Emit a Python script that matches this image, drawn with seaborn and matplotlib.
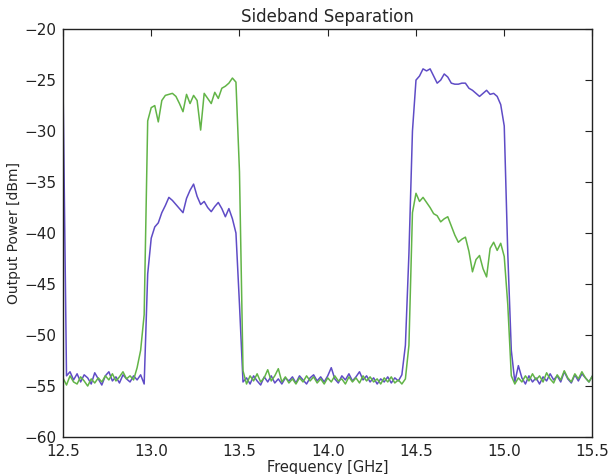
import numpy as np
import pandas as pd
import matplotlib
matplotlib.use("Agg")
import matplotlib.pyplot as plt
import seaborn as sns

# Frequency grid 12.50 .. 15.50 GHz, step 0.02 (151 points)
lower_sideband = [  # purple trace
    -25.0, -54.0, -53.6, -54.4, -53.8, -54.6, -53.9, -54.2, -54.8, -53.7,   # 12.50-12.68
    -54.3, -54.9, -54.0, -53.6, -54.5, -54.1, -54.7, -53.9, -54.3, -54.6,   # 12.70-12.88
    -54.0, -54.4, -53.9, -54.8, -44.0, -40.5, -39.4, -39.0, -38.0, -37.3,   # 12.90-13.08
    -36.5, -36.8, -37.2, -37.6, -38.0, -36.6, -35.8, -35.2, -36.4, -37.2,   # 13.10-13.28
    -36.9, -37.5, -37.9, -37.4, -37.0, -37.6, -38.4, -37.6, -38.6, -40.0,   # 13.30-13.48
    -47.0, -54.6, -54.2, -54.8, -54.0, -54.5, -54.9, -54.1, -54.6, -54.0,   # 13.50-13.68
    -54.7, -54.3, -54.8, -54.2, -54.5, -54.1, -54.7, -54.0, -54.4, -54.8,   # 13.70-13.88
    -54.2, -53.9, -54.5, -54.1, -54.6, -54.0, -53.2, -54.3, -54.7, -54.0,   # 13.90-14.08
    -54.4, -53.8, -54.5, -54.1, -53.6, -54.4, -54.0, -54.6, -54.2, -54.8,   # 14.10-14.28
    -54.3, -54.6, -54.1, -54.7, -54.2, -54.5, -53.9, -51.0, -42.0, -30.0,   # 14.30-14.48
    -25.0, -24.6, -23.9, -24.1, -23.9, -24.6, -25.3, -25.0, -24.4, -24.7,   # 14.50-14.68
    -25.3, -25.4, -25.4, -25.3, -25.3, -25.8, -26.0, -26.3, -26.6, -26.3,   # 14.70-14.88
    -26.0, -26.4, -26.3, -26.6, -27.4, -29.5, -42.0, -51.5, -54.6, -53.0,   # 14.90-15.08
    -54.2, -54.8, -54.0, -54.6, -54.2, -54.8, -54.1, -54.5, -53.8, -54.4,   # 15.10-15.28
    -54.0, -54.6, -53.6, -54.3, -54.7, -53.9, -54.5, -53.8, -54.2, -54.6,   # 15.30-15.48
    -54.0,                                                                   # 15.50
]
upper_sideband = [  # green trace
    -54.2, -54.9, -54.0, -54.6, -54.8, -54.1, -54.5, -55.0, -54.3, -54.7,   # 12.50-12.68
    -54.2, -54.6, -54.0, -54.4, -53.8, -54.5, -54.1, -53.6, -54.3, -54.0,   # 12.70-12.88
    -54.4, -53.2, -51.5, -48.0, -29.0, -27.7, -27.5, -29.1, -27.0, -26.5,   # 12.90-13.08
    -26.4, -26.3, -26.6, -27.3, -28.1, -26.4, -27.3, -26.5, -27.0, -29.9,   # 13.10-13.28
    -26.3, -26.8, -27.3, -26.2, -26.8, -25.8, -25.6, -25.3, -24.8, -25.2,   # 13.30-13.48
    -34.0, -53.5, -54.8, -54.0, -54.5, -53.8, -54.6, -54.2, -53.4, -54.5,   # 13.50-13.68
    -54.0, -53.3, -54.6, -54.1, -54.7, -54.3, -54.8, -54.2, -54.6, -54.0,   # 13.70-13.88
    -54.5, -54.1, -54.7, -54.3, -54.8, -54.2, -54.6, -54.0, -54.5, -54.3,   # 13.90-14.08
    -54.8, -54.1, -54.6, -54.2, -54.7, -54.0, -54.5, -54.1, -54.6, -54.3,   # 14.10-14.28
    -54.8, -54.2, -54.6, -54.1, -54.7, -54.4, -54.8, -54.3, -51.0, -38.0,   # 14.30-14.48
    -36.1, -36.9, -36.5, -37.0, -37.5, -38.1, -38.3, -38.9, -38.6, -38.4,   # 14.50-14.68
    -39.3, -40.2, -40.9, -40.6, -40.4, -41.8, -43.8, -42.6, -42.2, -43.5,   # 14.70-14.88
    -44.3, -41.5, -40.9, -41.7, -41.0, -42.3, -47.0, -54.0, -54.8, -54.2,   # 14.90-15.08
    -54.6, -54.0, -54.5, -53.8, -54.4, -54.0, -54.6, -53.7, -54.3, -54.7,   # 15.10-15.28
    -53.9, -54.4, -53.5, -54.2, -54.6, -53.8, -54.3, -53.6, -54.2, -54.6,   # 15.30-15.48
    -54.0,                                                                   # 15.50
]
freq_start, freq_stop = 12.5, 15.5
x_ticks = [12.5, 13.0, 13.5, 14.0, 14.5, 15.0, 15.5]
y_ticks = [-60, -55, -50, -45, -40, -35, -30, -25, -20]

freq = np.linspace(freq_start, freq_stop, len(lower_sideband))
df = pd.DataFrame({
    "Frequency": np.concatenate([freq, freq]),
    "Power": lower_sideband + upper_sideband,
    "Trace": ["lower"] * len(freq) + ["upper"] * len(freq),
})

sns.set_style("white")
plt.rcParams["font.family"] = ["DejaVu Sans"]

fig = plt.figure(figsize=(6.09, 4.74), dpi=100)
ax = fig.add_axes([0.1034, 0.078, 0.8695, 0.8606])

sns.lineplot(data=df, x="Frequency", y="Power", hue="Trace",
             palette={"lower": "#5f4cc6", "upper": "#62b447"},
             linewidth=1.1, legend=False, ax=ax, estimator=None, sort=False)

ax.set_xlim(freq_start, freq_stop)
ax.set_ylim(-60, -20)
ax.set_xticks(x_ticks)
ax.set_xticklabels([f"{t:.1f}" for t in x_ticks])
ax.set_yticks(y_ticks)
ax.set_yticklabels([f"\u2212{abs(t)}" for t in y_ticks])
ax.tick_params(direction="in", length=5, width=0.8, top=True, right=True,
               labelsize=11, colors="#222222", pad=5)
for s in ax.spines.values():
    s.set_visible(True)
    s.set_color("#222222")
    s.set_linewidth(1.0)

ax.set_xlabel("Frequency [GHz]", fontsize=10.5, labelpad=1)
ax.set_ylabel("Output Power [dBm]", fontsize=10, labelpad=2)
ax.set_title("Sideband Separation", fontsize=12, pad=5)

fig.savefig("out.png", dpi=100)
